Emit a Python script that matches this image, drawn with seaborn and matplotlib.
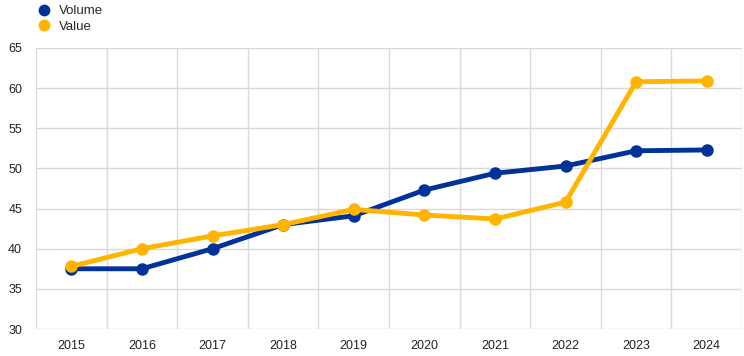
import numpy as np
import pandas as pd
import seaborn as sns
import matplotlib.pyplot as plt

years = [2015, 2016, 2017, 2018, 2019, 2020, 2021, 2022, 2023, 2024]
volume = [37.5, 37.5, 40.0, 43.0, 44.1, 47.3, 49.4, 50.3, 52.2, 52.3]
value = [37.8, 40.0, 41.6, 43.0, 44.9, 44.2, 43.7, 45.8, 60.8, 60.9]

sns.set_style('white')
plt.rcParams['font.family'] = ['Liberation Sans', 'DejaVu Sans']

df = pd.DataFrame({'year': years * 2,
                   'val': volume + value,
                   'series': ['Volume'] * len(years) + ['Value'] * len(years)})
colors = {'Volume': '#003299', 'Value': '#FFB400'}

fig = plt.figure(figsize=(7.44, 3.56), dpi=100)
ax = fig.add_axes([36 / 744, 1 - 329 / 356, 706 / 744, 281 / 356])

for name in ['Volume', 'Value']:
    sub = df[df.series == name]
    sns.lineplot(data=sub, x='year', y='val', ax=ax, color=colors[name],
                 linewidth=3.5, marker='o', markersize=9, markeredgewidth=0,
                 label=name, legend=False)

ax.set_xlim(2014.5, 2024.5)
ax.set_ylim(30, 65)
ax.set_yticks(range(30, 66, 5))
ax.set_xticks(years)
ax.set_xticks(np.arange(2014.5, 2025, 1), minor=True)
ax.grid(False)
ax.grid(True, axis='y', which='major', color='#d9d9d9', linewidth=1)
ax.grid(True, axis='x', which='minor', color='#d9d9d9', linewidth=1)
ax.set_axisbelow(True)
for s in ax.spines.values():
    s.set_visible(False)
ax.tick_params(axis='both', which='both', length=0, labelsize=9, colors='#222222')
ax.tick_params(axis='x', pad=8)
ax.tick_params(axis='y', pad=10)
ax.set_xlabel('')
ax.set_ylabel('')

handles = [plt.Line2D([], [], linestyle='none', marker='o', markersize=8.5,
                      markeredgewidth=0, color=colors[n]) for n in ['Volume', 'Value']]
fig.legend(handles, ['Volume', 'Value'], loc='upper left',
           bbox_to_anchor=(0.03, 1.019), frameon=False, fontsize=9.5,
           handletextpad=0.4, labelspacing=0.25, handlelength=1.5)

fig.savefig('out.png', dpi=100)
